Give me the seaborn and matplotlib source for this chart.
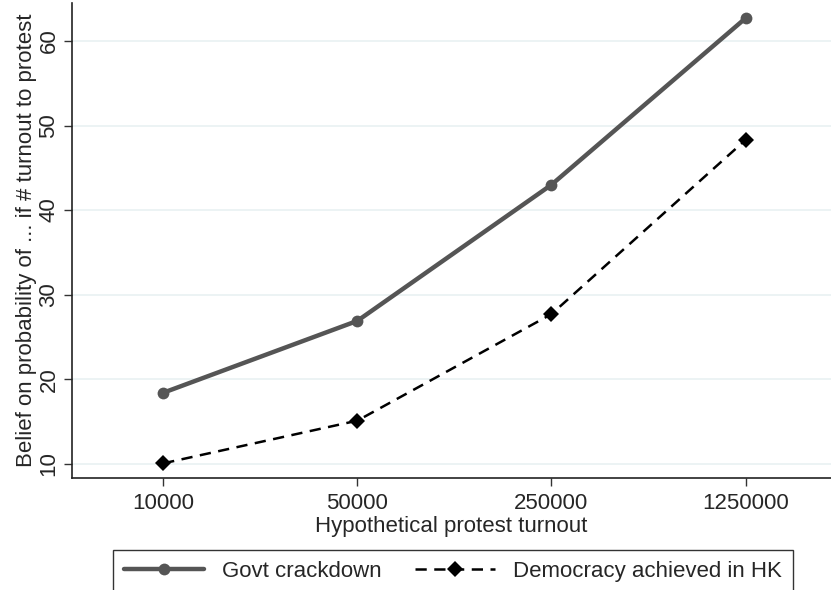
import numpy as np
import pandas as pd
import matplotlib.pyplot as plt
import seaborn as sns

# turnout categories and mean beliefs
turnout = ["10000", "50000", "250000", "1250000"]
crackdown = [18.4, 26.9, 43.0, 62.7]
democracy = [10.05, 15.1, 27.7, 48.3]

df = pd.DataFrame({
    "pos": list(range(len(turnout))) * 2,
    "value": crackdown + democracy,
    "series": ["Govt crackdown"] * 4 + ["Democracy achieved in HK"] * 4,
})

sns.set_style("white")
plt.rcParams['font.family'] = ['Liberation Sans', 'DejaVu Sans']
plt.rcParams['font.size'] = 16

fig = plt.figure(figsize=(8.31, 5.9), dpi=100)
ax = fig.add_axes([0.0866, 0.19, 0.9134, 0.805])

# light gridlines behind
for v in [10, 20, 30, 40, 50, 60]:
    ax.axhline(v, color="#eaf2f3", lw=1.3, zorder=0)

sns.lineplot(data=df[df.series == "Govt crackdown"], x="pos", y="value", ax=ax,
             color="#555555", lw=3.2, marker="o", markersize=8.5, markeredgewidth=0,
             label="Govt crackdown")
sns.lineplot(data=df[df.series == "Democracy achieved in HK"], x="pos", y="value", ax=ax,
             color="black", lw=1.8, marker="D", markersize=8, markeredgewidth=0,
             linestyle=(0, (4.5, 3)), label="Democracy achieved in HK")

ax.set_xlim(-0.47, 3.44)
ax.set_ylim(8.33, 64.5)
ax.set_xticks(range(len(turnout)))
ax.set_xticklabels(turnout)
ax.set_yticks([10, 20, 30, 40, 50, 60])
ax.set_yticklabels(["10", "20", "30", "40", "50", "60"], rotation=90, va="center")
ax.tick_params(axis="both", length=6, width=1, color="#333333", direction="out",
               bottom=True, left=True, pad=3)
ax.tick_params(axis="x", pad=5)
ax.set_xlabel("Hypothetical protest turnout", labelpad=1)
ax.set_ylabel("Belief on probability of ... if # turnout to protest", labelpad=1)

for s in ["top", "right"]:
    ax.spines[s].set_visible(False)
for s in ["left", "bottom"]:
    ax.spines[s].set_color("#222222")
    ax.spines[s].set_linewidth(1.2)

ax.legend_.remove()
handles, labels = ax.get_legend_handles_labels()
leg = fig.legend(handles, labels, loc="upper center", bbox_to_anchor=(0.545, 0.087),
                 ncol=2, frameon=True, fancybox=False, edgecolor="black",
                 handlelength=3.6, columnspacing=1.5, borderpad=0.5, handletextpad=0.8)
leg.get_frame().set_linewidth(1.0)

plt.savefig("out.png", dpi=100)
